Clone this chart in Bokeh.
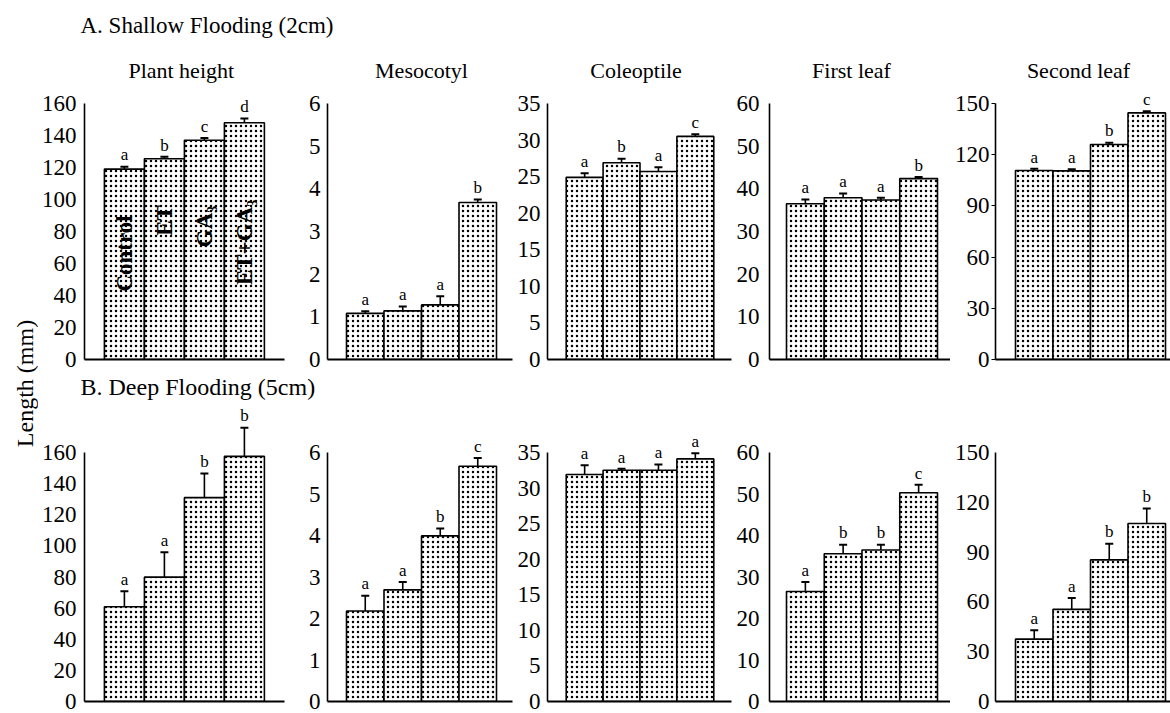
import math
from bokeh.plotting import figure
from bokeh.models import Range1d, FixedTicker, Whisker, TeeHead, ColumnDataSource
from bokeh.layouts import row, column
from bokeh.embed import file_html
from bokeh.resources import INLINE
from bokeh.core.properties import value

# ---------------- data ----------------
categories = ["Control", "ET", "GA\u2083", "ET+GA\u2083"]
panel_names = ["Plant  height", "Mesocotyl", "Coleoptile", "First leaf", "Second leaf"]

axis_max = [160, 6, 35, 60, 150]
y_ticks = [
    [0, 20, 40, 60, 80, 100, 120, 140, 160],
    [0, 1, 2, 3, 4, 5, 6],
    [0, 5, 10, 15, 20, 25, 30, 35],
    [0, 10, 20, 30, 40, 50, 60],
    [0, 30, 60, 90, 120, 150],
]

# A. Shallow flooding (2cm)
plant_height_shallow = [119, 125.5, 137, 148]
plant_height_shallow_err = [1.5, 1.2, 1.5, 2.7]
mesocotyl_shallow = [1.08, 1.14, 1.28, 3.68]
mesocotyl_shallow_err = [0.05, 0.1, 0.2, 0.07]
coleoptile_shallow = [24.9, 26.9, 25.7, 30.5]
coleoptile_shallow_err = [0.55, 0.55, 0.6, 0.3]
first_leaf_shallow = [36.5, 37.9, 37.4, 42.4]
first_leaf_shallow_err = [1.0, 1.0, 0.5, 0.4]
second_leaf_shallow = [110.7, 110.5, 126, 144.5]
second_leaf_shallow_err = [1.0, 1.0, 1.0, 1.0]
letters_shallow = [["a", "b", "c", "d"], ["a", "a", "a", "b"], ["a", "b", "a", "c"],
                   ["a", "a", "a", "b"], ["a", "a", "b", "c"]]

# B. Deep flooding (5cm)
plant_height_deep = [60.9, 79.9, 131, 157.5]
plant_height_deep_err = [10, 16, 15.5, 18.4]
mesocotyl_deep = [2.18, 2.69, 3.99, 5.67]
mesocotyl_deep_err = [0.37, 0.19, 0.18, 0.2]
coleoptile_deep = [31.9, 32.5, 32.5, 34.1]
coleoptile_deep_err = [1.3, 0.2, 0.8, 0.8]
first_leaf_deep = [26.5, 35.6, 36.5, 50.3]
first_leaf_deep_err = [2.3, 2.2, 1.3, 1.9]
second_leaf_deep = [37.6, 55.5, 85.3, 107.2]
second_leaf_deep_err = [5.3, 6.8, 9.8, 9.1]
letters_deep = [["a", "a", "b", "b"], ["a", "a", "b", "c"], ["a", "a", "a", "a"],
                ["a", "b", "b", "c"], ["a", "a", "b", "b"]]

shallow_means = [plant_height_shallow, mesocotyl_shallow, coleoptile_shallow,
                 first_leaf_shallow, second_leaf_shallow]
shallow_errs = [plant_height_shallow_err, mesocotyl_shallow_err, coleoptile_shallow_err,
                first_leaf_shallow_err, second_leaf_shallow_err]
deep_means = [plant_height_deep, mesocotyl_deep, coleoptile_deep, first_leaf_deep, second_leaf_deep]
deep_errs = [plant_height_deep_err, mesocotyl_deep_err, coleoptile_deep_err,
             first_leaf_deep_err, second_leaf_deep_err]

# ---------------- layout (page pixel coordinates) ----------------
FONT = "Liberation Serif"
MID = 0.34  # baseline offset of a 'middle'-anchored line, in em
PAGE_W, PAGE_H = 1170, 713
YLAB_W = 38
fig_left = [38, 290, 514, 733, 950]
fig_right = [290, 514, 733, 950, 1170]
axis_px = [83, 327, 544, 769, 995]
bar_left_px = [103, 346, 563, 786, 1015]
unit_px = [40.2, 37.5, 37.5, 37.75, 37.5]
frame_end_px = [284, 512, 731, 950, 1170]
label_standoff = [8, 7, 7, 10, 6]
title_x_px = [183, 421, 634, 851, 1078]
rot_label_y_px = [253, 220, 226, 242]

rows_geo = {
    "top": dict(fig_top=48, fig_bottom=373, zero=359, tickmax=103),
    "bottom": dict(fig_top=404, fig_bottom=713, zero=701, tickmax=452),
}


def make_panel(i, means, errs, letters, geo, top_row):
    zero, tmax, ftop = geo["zero"], geo["tickmax"], geo["fig_top"]
    ymax = axis_max[i]
    y_end = ymax * (zero - ftop) / (zero - tmax)
    x_start = -0.5 - (bar_left_px[i] - axis_px[i]) / unit_px[i]
    x_end = x_start + (frame_end_px[i] - axis_px[i]) / unit_px[i]
    p = figure(width=fig_right[i] - fig_left[i], height=geo["fig_bottom"] - ftop,
               x_range=Range1d(x_start, x_end), y_range=Range1d(0, y_end),
               output_backend="svg", toolbar_location=None, tools="", title=None,
               min_border_left=axis_px[i] - fig_left[i],
               min_border_right=fig_right[i] - frame_end_px[i],
               min_border_top=0, min_border_bottom=geo["fig_bottom"] - zero)
    p.outline_line_color = None
    p.xgrid.visible = False
    p.ygrid.visible = False
    p.background_fill_color = "white"
    p.border_fill_color = "white"

    xs = list(range(len(categories)))
    uppers = [m + e for m, e in zip(means, errs)]
    src = ColumnDataSource(dict(x=xs, top=means, upper=uppers, lab=letters, cat=categories))
    p.vbar(x="x", top="top", bottom=0, width=1.0, source=src,
           fill_color="white", line_color="black", line_width=1.6,
           hatch_pattern="dot", hatch_scale=5, hatch_weight=0.8, hatch_color="black")
    p.add_layout(Whisker(source=src, base="x", lower="top", upper="upper", dimension="height",
                         line_color="black", line_width=1.6, lower_head=None,
                         upper_head=TeeHead(size=8, line_color="black", line_width=2)))
    p.text(x="x", y="upper", text="lab", source=src, text_align="center",
           text_baseline="middle", y_offset=-(6 + MID * 17), text_font=value(FONT),
           text_font_size="17px", text_color="black")

    yax = p.yaxis[0]
    yax.ticker = FixedTicker(ticks=y_ticks[i])
    yax.bounds = (0, ymax)
    yax.axis_line_width = 1.6
    yax.axis_line_color = "black"
    yax.major_tick_in = 0
    tick_out = 4 if (top_row and i == 4) else 0
    yax.major_tick_out = tick_out
    yax.major_tick_line_color = "black"
    yax.minor_tick_line_color = None
    yax.major_label_standoff = label_standoff[i] - tick_out
    yax.major_label_text_font = FONT
    yax.major_label_text_font_size = "23px"
    yax.major_label_text_color = "black"

    xax = p.xaxis[0]
    xax.ticker = FixedTicker(ticks=[])
    xax.axis_line_width = 2
    xax.axis_line_color = "black"
    xax.major_tick_line_color = None
    xax.minor_tick_line_color = None
    xax.major_label_text_font_size = "0px"

    if top_row:
        tx = x_start + (title_x_px[i] - axis_px[i]) / unit_px[i]
        ty = ymax * (zero - (77 - MID * 22)) / (zero - tmax)
        p.text(x=[tx], y=[ty], text=[panel_names[i]], text_align="center",
               text_baseline="middle", text_font=value(FONT),
               text_font_size="22px", text_color="black")
        if i == 0:
            ly = [(zero - py) * ymax / (zero - tmax) for py in rot_label_y_px]
            p.text(x=xs, y=ly, text=categories, angle=math.pi / 2, text_align="center",
                   text_baseline="middle", text_font=value(FONT), text_font_size="23px",
                   text_font_style="bold", text_color="black")
    return p


def header(text, top, bottom, baseline, size_px):
    h = figure(width=PAGE_W - YLAB_W, height=bottom - top, x_range=Range1d(YLAB_W, PAGE_W),
               y_range=Range1d(-bottom, -top), x_axis_type=None, y_axis_type=None,
               output_backend="svg", toolbar_location=None, tools="", title=None,
               min_border=0)
    h.outline_line_color = None
    h.xgrid.visible = False
    h.ygrid.visible = False
    h.text(x=[80], y=[-(baseline - MID * size_px)], text=[text], text_align="left",
           text_baseline="middle", text_font=value(FONT), text_font_size=f"{size_px}px",
           text_color="black")
    return h


top_figs = [make_panel(i, shallow_means[i], shallow_errs[i], letters_shallow[i], rows_geo["top"], True)
            for i in range(5)]
bottom_figs = [make_panel(i, deep_means[i], deep_errs[i], letters_deep[i], rows_geo["bottom"], False)
               for i in range(5)]

head_a = header("A. Shallow Flooding  (2cm)", 0, 48, 33, 23)
head_b = header("B. Deep Flooding  (5cm)", 373, 404, 395, 24)

ylab = figure(width=YLAB_W, height=PAGE_H, x_range=Range1d(0, YLAB_W), y_range=Range1d(-PAGE_H, 0),
              x_axis_type=None, y_axis_type=None, output_backend="svg",
              toolbar_location=None, tools="", title=None, min_border=0)
ylab.outline_line_color = None
ylab.xgrid.visible = False
ylab.ygrid.visible = False
ylab.text(x=[24], y=[-383], text=["Length (mm)"], angle=math.pi / 2, text_align="center",
          text_baseline="middle", text_font=value(FONT), text_font_size="24px", text_color="black")

layout = row(ylab, column(head_a, row(*top_figs), head_b, row(*bottom_figs)))

open("out.html", "w").write(file_html(layout, INLINE))
